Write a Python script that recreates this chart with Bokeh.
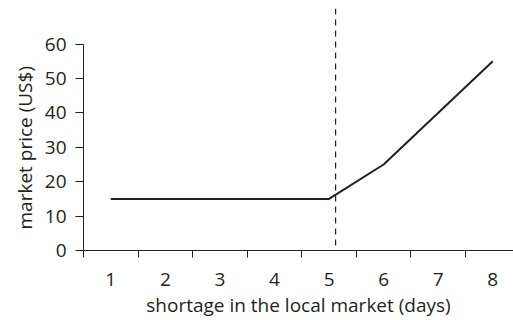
from bokeh.plotting import figure
from bokeh.models import FixedTicker, Arrow, Range1d, Title
from bokeh.embed import file_html
from bokeh.resources import INLINE

# data
days = [1, 5, 6, 8]
price = [15, 15, 25, 55]
x_ticks = [1, 2, 3, 4, 5, 6, 7, 8]
y_ticks = [0, 10, 20, 30, 40, 50, 60]
threshold_day = 5.12
x_title = "shortage in the local market (days)"
y_title = "market price (US$)"

FONT = "Open Sans"
INK = "#231f20"

p = figure(width=513, height=320, output_backend="svg", toolbar_location=None,
           x_range=Range1d(0.5, 8.38), y_range=Range1d(0, 70.35),
           min_border_left=83, min_border_right=0, min_border_top=8, min_border_bottom=70)
p.outline_line_color = None
p.grid.grid_line_color = None
p.background_fill_color = "white"
p.border_fill_color = "white"

p.line(days, price, line_color=INK, line_width=2)

# x axis: labels at integer days, tick marks between categories
xa = p.xaxis[0]
xa.ticker = FixedTicker(ticks=x_ticks, minor_ticks=[t - 0.5 for t in x_ticks] + [x_ticks[-1] + 0.5])
xa.major_tick_line_color = None
xa.major_tick_out = 7
xa.major_tick_in = 0
xa.minor_tick_line_color = INK
xa.minor_tick_out = 7
xa.minor_tick_in = 0
xa.axis_line_color = INK
xa.major_label_text_font = FONT
xa.major_label_text_font_size = "19px"
xa.major_label_text_color = INK
xa.major_label_standoff = 15
xa.axis_label = x_title
xa.axis_label_text_font = FONT
xa.axis_label_text_font_size = "19px"
xa.axis_label_text_font_style = "normal"
xa.axis_label_text_color = INK
xa.axis_label_text_line_height = 0.8
xa.axis_label_standoff = 3

ya = p.yaxis[0]
ya.ticker = FixedTicker(ticks=y_ticks)
ya.bounds = (y_ticks[0], y_ticks[-1])
ya.minor_tick_line_color = None
ya.major_tick_out = 8
ya.major_tick_in = 0
ya.major_tick_line_color = INK
ya.axis_line_color = INK
ya.major_label_text_font = FONT
ya.major_label_text_font_size = "19px"
ya.major_label_text_color = INK
ya.major_label_standoff = 9

p.add_layout(Title(text=y_title, text_font=FONT, text_font_size="19px", text_color=INK,
                   text_font_style="normal", align="left", offset=21, standoff=7), "left")

p.add_layout(Arrow(x_start=threshold_day, y_start=70.35, x_end=threshold_day, y_end=-12.2,
                   start=None, end=None, line_color=INK, line_width=1.2, line_dash="6 5"))

open("out.html", "w").write(file_html(p, INLINE))
